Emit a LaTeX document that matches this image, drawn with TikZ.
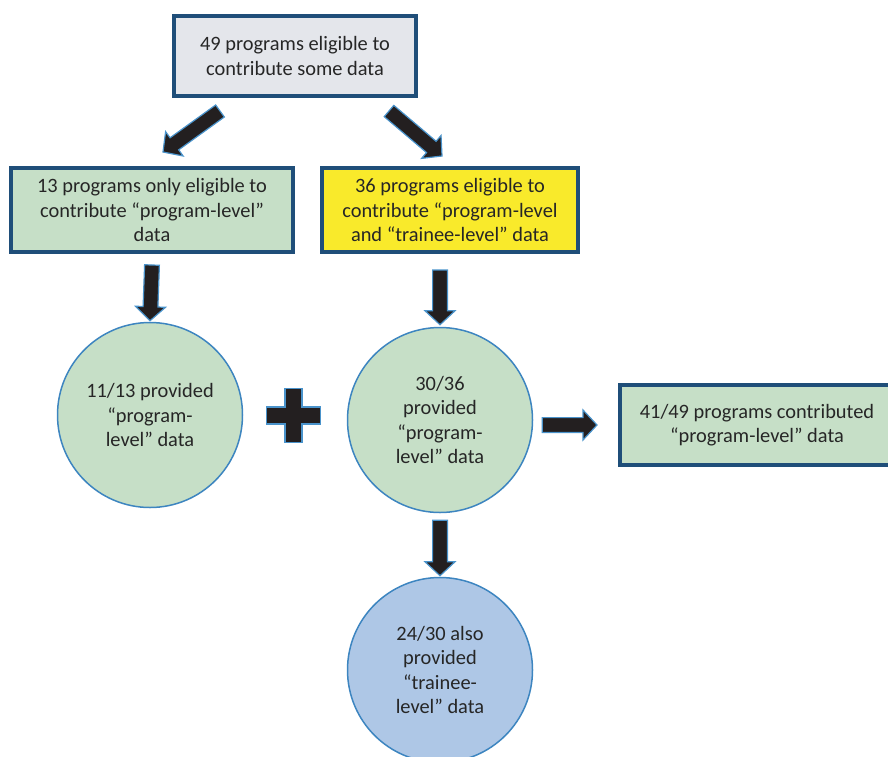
\documentclass[tikz,border=0pt]{standalone}
\usepackage{fontspec}
\setmainfont{Carlito}
\usetikzlibrary{calc}

\definecolor{boxLine}{HTML}{1F4E79}
\definecolor{greyFill}{HTML}{E4E6EB}
\definecolor{greenFill}{HTML}{C6DFC7}
\definecolor{yellowFill}{HTML}{F9EA2B}
\definecolor{blueFill}{HTML}{AEC7E6}
\definecolor{circLine}{HTML}{3D85C0}
\definecolor{arrowFill}{HTML}{231F20}
\definecolor{arrowLine}{HTML}{4A93CB}
\definecolor{textGrey}{HTML}{262626}

% fat arrow from #1 to #2
\newcommand{\blockarrow}[2]{%
  \coordinate (bS) at (#1);
  \coordinate (bT) at (#2);
  \coordinate (bH) at ($(bT)!7pt!(bS)$);
  \filldraw[arrowStyle] ($(bS)!3.7pt!90:(bT)$) -- ($(bH)!3.7pt!90:(bT)$) -- ($(bH)!7.5pt!90:(bT)$) -- (bT)
    -- ($(bH)!7.5pt!-90:(bT)$) -- ($(bH)!3.7pt!-90:(bT)$) -- ($(bS)!3.7pt!-90:(bT)$) -- cycle;}

\begin{document}
\begin{tikzpicture}[x=0.5pt,y=-0.5pt]
\fontsize{10.2}{12.2}\selectfont
  \tikzstyle{boxStyle}=[draw=boxLine,line width=2pt,text=textGrey,align=center,inner sep=0pt]
  \tikzstyle{greyBox}=[boxStyle,fill=greyFill,minimum width=121pt,minimum height=40pt]
  \tikzstyle{greenBox}=[boxStyle,fill=greenFill,minimum height=42pt]
  \tikzstyle{yellowBox}=[boxStyle,fill=yellowFill,minimum width=128pt,minimum height=42pt]
  \tikzstyle{circStyle}=[circle,draw=circLine,line width=0.75pt,minimum size=92.5pt,inner sep=0pt,text=textGrey,align=center]
  \tikzstyle{arrowStyle}=[fill=arrowFill,draw=arrowLine,line width=0.6pt]

  \useasboundingbox (0,0) rectangle (888,756);

  \node[greyBox](top) at (295,56) {49 programs eligible to\\contribute some data};

  \node[greenBox,minimum width=141pt](left) at (152,210) {13 programs only eligible to\\contribute “program-level”\\data};
  \node[yellowBox](both) at (450,210) {36 programs eligible to\\contribute “program-level\\and “trainee-level” data};

  \node[circStyle,fill=greenFill](lc) at (150,415) {11/13 provided\\“program-\\level” data};
  \node[circStyle,fill=greenFill](mc) at (440,420) {30/36\\provided\\“program-\\level” data};
  \node[circStyle,fill=blueFill](bc) at (440,670) {24/30 also\\provided\\“trainee-\\level” data};

  \node[greenBox,minimum width=137pt,minimum height=40pt](total) at (757,425) {41/49 programs contributed\\“program-level” data};

  % arrows
  \blockarrow{$(top.south west)+(48,13)$}{$(left.north)+(11,-14)$}
  \blockarrow{$(top.south east)+(-29,13)$}{$(both.north)+(-8,-10)$}
  \blockarrow{$(left.south)+(0,11)$}{$(lc.north)+(0,-1)$}
  \blockarrow{$(both.south -| mc.north)+(0,16)$}{$(mc.north)+(0,-2)$}
  \blockarrow{$(mc.south)+(0,7)$}{$(bc.north)+(0,-1)$}
  \blockarrow{$(mc.east |- total.west)+(9,0)$}{$(total.west)+(-21,0)$}

  % plus sign
  \coordinate (plus) at ($(lc)!0.5!(mc)+(-1.5,-2)$);
  \filldraw[arrowStyle,shift={(plus)}] (-8.5,-27) -- (8.5,-27) -- (8.5,-8.5) -- (27,-8.5) -- (27,8.5) -- (8.5,8.5)
    -- (8.5,27) -- (-8.5,27) -- (-8.5,8.5) -- (-27,8.5) -- (-27,-8.5) -- (-8.5,-8.5) -- cycle;

\end{tikzpicture}
\end{document}
